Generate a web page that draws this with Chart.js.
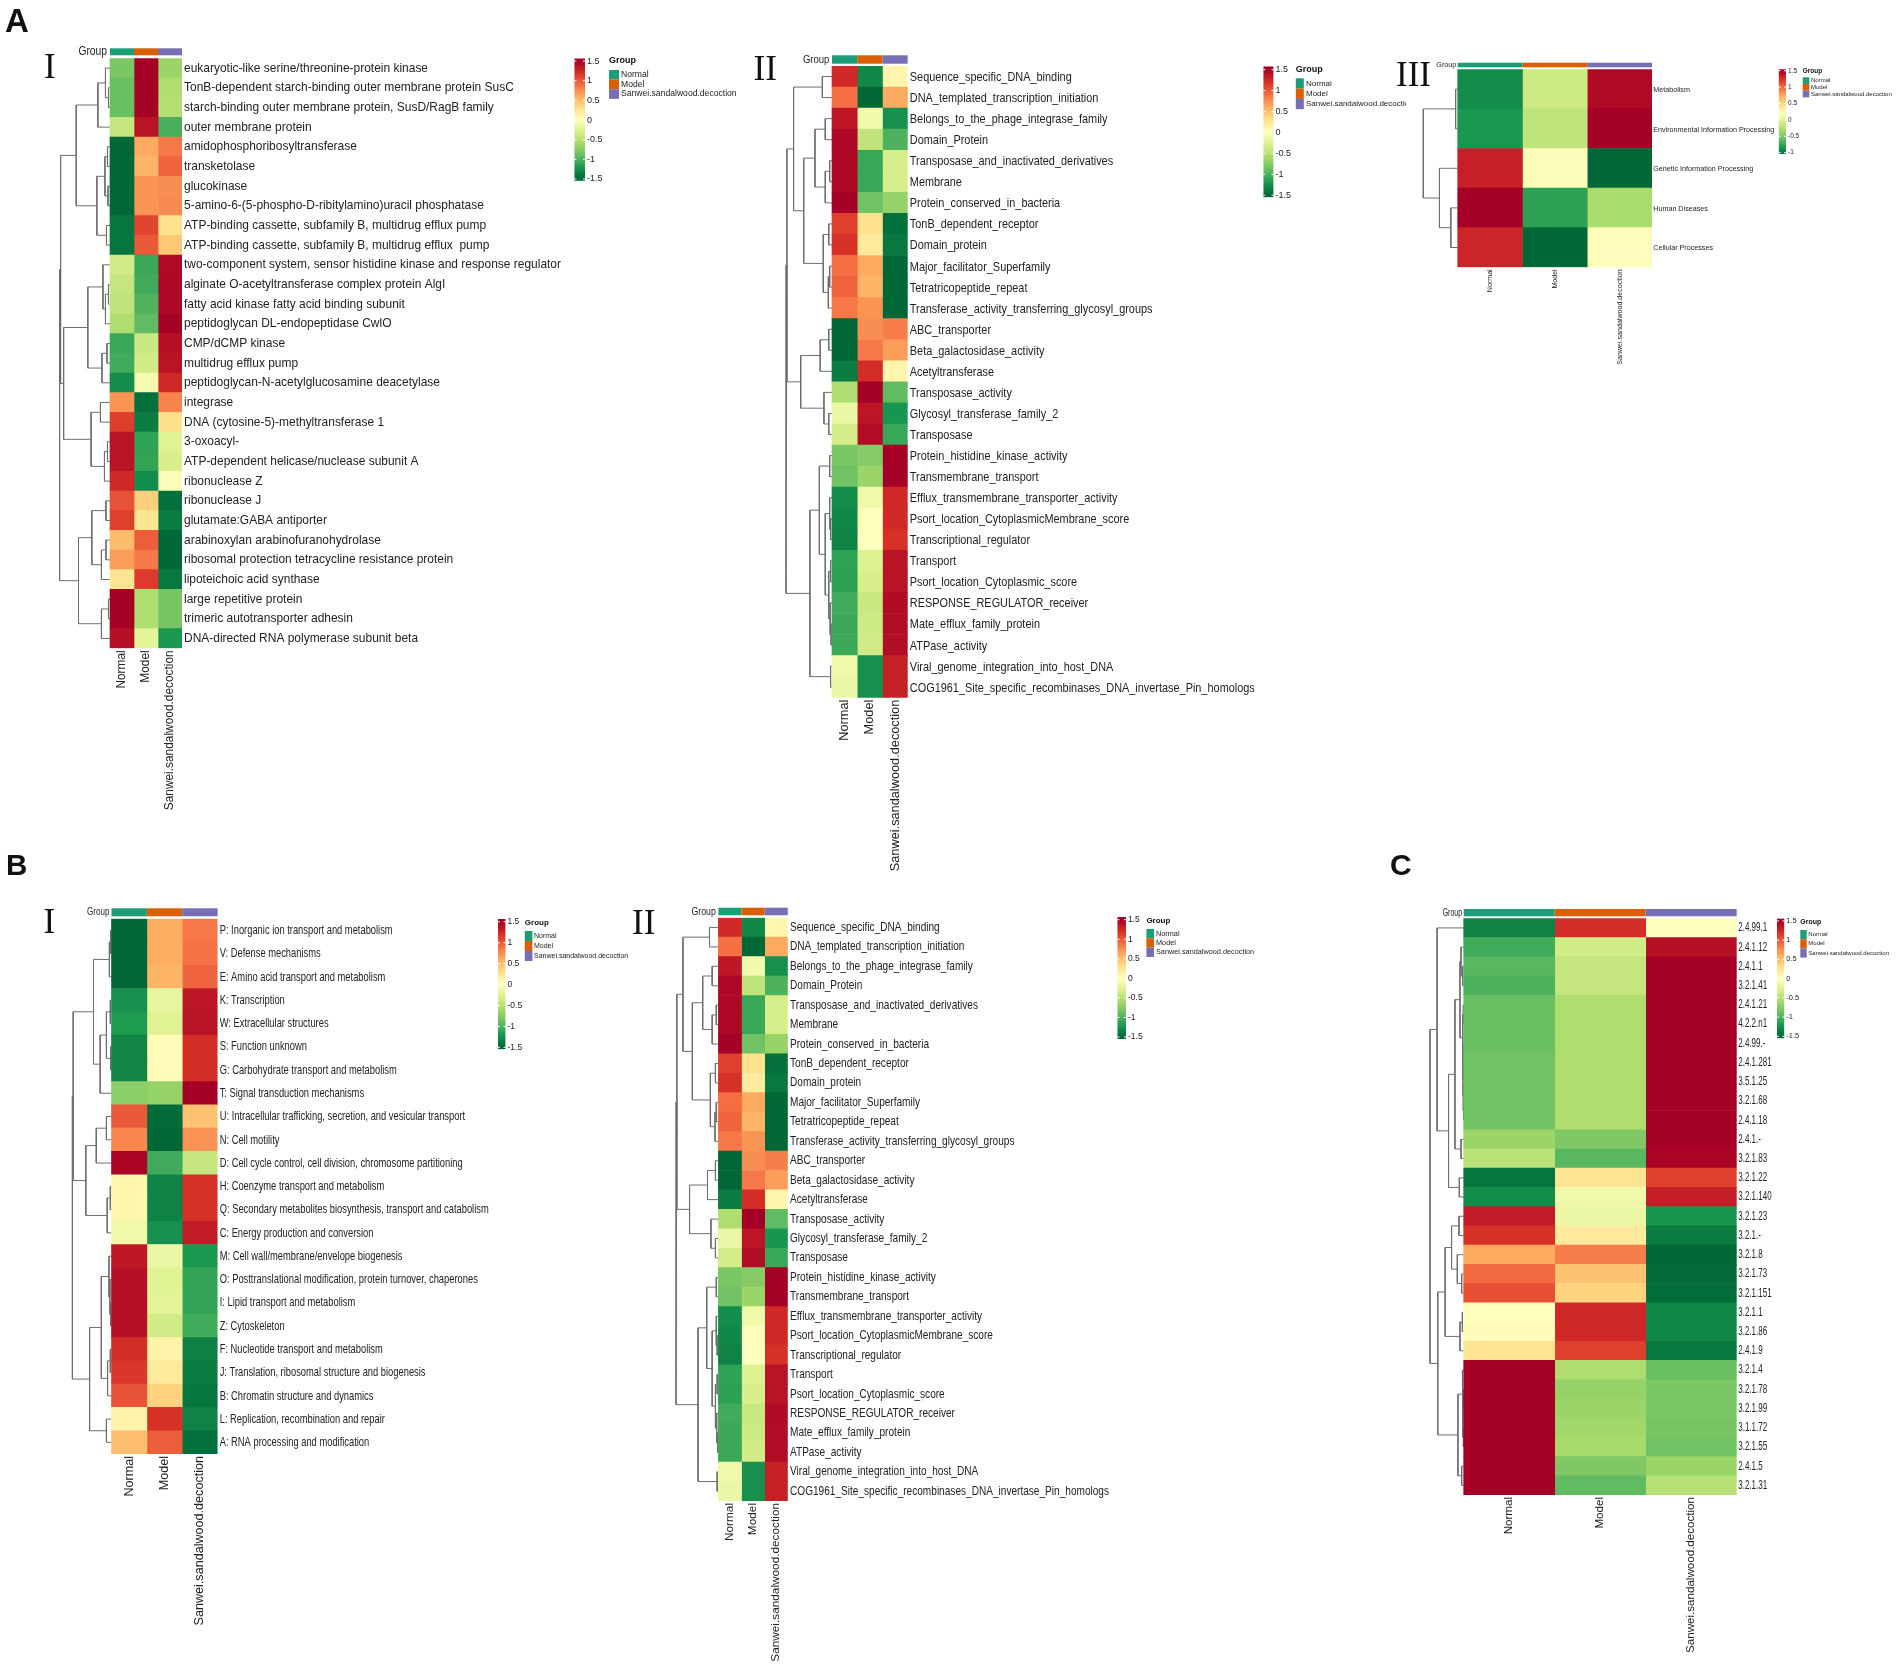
<!DOCTYPE html>
<html>
<head>
<meta charset="utf-8">
<title>Heatmaps</title>
<script src="https://cdn.jsdelivr.net/npm/chart.js"></script>
<style>
    html, body { margin: 0; background: #fff; }
    #page { position: relative; width: 1901px; height: 1670px; overflow: hidden; filter: blur(0.3px); }
    canvas { position: absolute; }
    .letter { position: absolute; font: bold 30px/1 "Liberation Sans"; color: #111; }
    .roman { position: absolute; font: 35px/1 "Liberation Serif"; color: #111; }
</style>
</head>
<body>
<div id="page"></div>
<script>
const groups = ['Normal', 'Model', 'Sanwei.sandalwood.decoction'];
const groupColors = ['#1B9E77', '#D95F02', '#7570B3'];
const heatStops = ['#006837', '#1A9850', '#66BD63', '#A6D96A', '#D9EF8B', '#FFFFBF', '#FEE08B', '#FDAE61', '#F46D43', '#D73027', '#A50026'];
const legendTicks = [1.5, 1, 0.5, 0, -0.5, -1, -1.5];
const legendTicksShort = [1.5, 1, 0.5, 0, -0.5, -1];

// A I
const labelsA1 = ['eukaryotic-like serine/threonine-protein kinase', 'TonB-dependent starch-binding outer membrane protein SusC', 'starch-binding outer membrane protein, SusD/RagB family', 'outer membrane protein', 'amidophosphoribosyltransferase', 'transketolase', 'glucokinase', '5-amino-6-(5-phospho-D-ribitylamino)uracil phosphatase', 'ATP-binding cassette, subfamily B, multidrug efflux pump', 'ATP-binding cassette, subfamily B, multidrug efflux  pump', 'two-component system, sensor histidine kinase and response regulator', 'alginate O-acetyltransferase complex protein AlgI', 'fatty acid kinase fatty acid binding subunit', 'peptidoglycan DL-endopeptidase CwlO', 'CMP/dCMP kinase', 'multidrug efflux pump', 'peptidoglycan-N-acetylglucosamine deacetylase', 'integrase', 'DNA (cytosine-5)-methyltransferase 1', '3-oxoacyl-', 'ATP-dependent helicase/nuclease subunit A', 'ribonuclease Z', 'ribonuclease J', 'glutamate:GABA antiporter', 'arabinoxylan arabinofuranohydrolase', 'ribosomal protection tetracycline resistance protein', 'lipoteichoic acid synthase', 'large repetitive protein', 'trimeric autotransporter adhesin', 'DNA-directed RNA polymerase subunit beta'];
const valuesA1 = [
    [-0.8, 1.5, -0.65], [-0.88, 1.5, -0.55], [-0.88, 1.5, -0.52], [-0.42, 1.38, -1.02], [-1.5, 0.62, 0.85],
    [-1.5, 0.55, 0.95], [-1.5, 0.72, 0.75], [-1.5, 0.72, 0.76], [-1.42, 1.1, 0.28], [-1.42, 1.0, 0.45],
    [-0.35, -1.08, 1.44], [-0.42, -1.05, 1.45], [-0.45, -0.98, 1.45], [-0.55, -0.92, 1.5], [-1.08, -0.38, 1.4],
    [-1.05, -0.35, 1.38], [-1.27, -0.08, 1.25], [0.72, -1.45, 0.8], [1.13, -1.37, 0.3], [1.38, -1.12, -0.25],
    [1.38, -1.1, -0.3], [1.25, -1.27, -0.03], [1.03, 0.4, -1.45], [1.12, 0.25, -1.38], [0.52, 0.98, -1.5],
    [0.68, 0.85, -1.5], [0.25, 1.15, -1.4], [1.5, -0.55, -0.82], [1.5, -0.55, -0.82], [1.4, -0.2, -1.2]
];
// trees are [distance, childA, childB], a plain number is a row
const treeA1 = [100,
    [98,
        [67, [24, [9, 0, [3, 1, 2]], 3], [26, [10, [5, 4, 5], [4, 6, 7]], [7, 8, 9]]],
        [92,
            [44, [14, 10, [9, [3, 11, 12], 13]], [16, [6, 14, 15], 16]],
            [37.5, [19, 17, 18], [11, [5, 19, 20], 21]]]],
    [62.5,
        [36, [8, 22, 23], [17, [8, 24, 25], 26]],
        [17, [3, 27, 28], 29]]];

// A II and B II show the same table
const labelsII = ['Sequence_specific_DNA_binding', 'DNA_templated_transcription_initiation', 'Belongs_to_the_phage_integrase_family', 'Domain_Protein', 'Transposase_and_inactivated_derivatives', 'Membrane', 'Protein_conserved_in_bacteria', 'TonB_dependent_receptor', 'Domain_protein', 'Major_facilitator_Superfamily', 'Tetratricopeptide_repeat', 'Transferase_activity_transferring_glycosyl_groups', 'ABC_transporter', 'Beta_galactosidase_activity', 'Acetyltransferase', 'Transposase_activity', 'Glycosyl_transferase_family_2', 'Transposase', 'Protein_histidine_kinase_activity', 'Transmembrane_transport', 'Efflux_transmembrane_transporter_activity', 'Psort_location_CytoplasmicMembrane_score', 'Transcriptional_regulator', 'Transport', 'Psort_location_Cytoplasmic_score', 'RESPONSE_REGULATOR_receiver', 'Mate_efflux_family_protein', 'ATPase_activity', 'Viral_genome_integration_into_host_DNA', 'COG1961_Site_specific_recombinases_DNA_invertase_Pin_homologs'];
const valuesII = [
    [1.25, -1.3, 0.1], [0.88, -1.5, 0.62], [1.35, -0.1, -1.25], [1.45, -0.45, -1.0], [1.45, -1.08, -0.32],
    [1.45, -1.08, -0.32], [1.5, -0.85, -0.68], [1.12, 0.28, -1.45], [1.2, 0.2, -1.4], [0.9, 0.62, -1.5],
    [0.95, 0.55, -1.5], [0.85, 0.72, -1.5], [-1.5, 0.75, 0.82], [-1.5, 0.85, 0.68], [-1.37, 1.22, 0.1],
    [-0.55, 1.5, -0.92], [-0.15, 1.37, -1.22], [-0.33, 1.42, -1.08], [-0.8, -0.75, 1.5], [-0.85, -0.65, 1.5],
    [-1.27, -0.12, 1.25], [-1.3, -0.02, 1.25], [-1.33, 0, 1.2], [-1.12, -0.27, 1.38], [-1.13, -0.3, 1.38],
    [-1.05, -0.4, 1.43], [-1.07, -0.37, 1.42], [-1.07, -0.35, 1.42], [-0.12, -1.25, 1.3], [-0.15, -1.25, 1.3]
];
const treeII = [100,
    [98,
        [83.5,
            [21, 0, 1],
            [61.5,
                [37, [14.7, 2, 3], [14.7, [5, 4, 5], 6]],
                [19, [7, 7, 8], [8, [5, 9, 10], 11]]]],
        [68,
            [25.7, [7, 12, 13], 14],
            [17.5, 15, [7, 16, 17]]]],
    [48,
        [27.5,
            [5, 18, 19],
            [14.7, [5, 20, [3, 21, 22]], [7, [3, 23, 24], [4, 25, [2, 26, 27]]]]],
        [3, 28, 29]]];

// A III
const labelsA3 = ['Metabolism', 'Environmental Information Processing', 'Genetic Information Processing', 'Human Diseases', 'Cellular Processes'];
const valuesA3 = [[-0.9, -0.12, 1.45], [-0.84, -0.2, 1.5], [1.33, 0.17, -1.1], [1.5, -0.78, -0.3], [1.3, -1.1, 0.22]];
const treeA3 = [100, [6, 0, 1], [53, 2, [20, 3, 4]]];

// B I
const labelsB1 = ['P: Inorganic ion transport and metabolism', 'V: Defense mechanisms', 'E: Amino acid transport and metabolism', 'K: Transcription', 'W: Extracellular structures', 'S: Function unknown', 'G: Carbohydrate transport and metabolism', 'T: Signal transduction mechanisms', 'U: Intracellular trafficking, secretion, and vesicular transport', 'N: Cell motility', 'D: Cell cycle control, cell division, chromosome partitioning', 'H: Coenzyme transport and metabolism', 'Q: Secondary metabolites biosynthesis, transport and catabolism', 'C: Energy production and conversion', 'M: Cell wall/membrane/envelope biogenesis', 'O: Posttranslational modification, protein turnover, chaperones', 'I: Lipid transport and metabolism', 'Z: Cytoskeleton', 'F: Nucleotide transport and metabolism', 'J: Translation, ribosomal structure and biogenesis', 'B: Chromatin structure and dynamics', 'L: Replication, recombination and repair', 'A: RNA processing and modification'];
const valuesB1 = [
    [-1.5, 0.6, 0.85], [-1.5, 0.6, 0.87], [-1.5, 0.55, 0.95], [-1.25, -0.18, 1.37], [-1.18, -0.25, 1.38],
    [-1.32, 0.03, 1.22], [-1.32, 0.03, 1.22], [-0.72, -0.68, 1.5], [1.0, -1.48, 0.48], [0.78, -1.5, 0.72],
    [1.47, -1.05, -0.42], [0.1, -1.33, 1.2], [0.1, -1.33, 1.2], [-0.12, -1.25, 1.33], [1.35, -0.15, -1.2],
    [1.4, -0.25, -1.1], [1.4, -0.22, -1.1], [1.4, -0.35, -1.05], [1.22, 0.12, -1.35], [1.17, 0.2, -1.37],
    [1.03, 0.38, -1.42], [0.12, 1.2, -1.33], [0.5, 0.98, -1.45]
];
const treeB1 = [100,
    [98,
        [46,
            [5.4, [2, 0, 1], 2],
            [29, [13, [3, 3, 4], [2, 5, 6]], 7]],
        [65.6,
            [39, [13, 8, 9], 10],
            [11, [3, 11, 12], 13]]],
    [56,
        [26,
            [6.5, 14, [4, 15, [2, 16, 17]]],
            [10, [3, 18, 19], 20]],
        [13, 21, 22]]];

// C
const labelsC = ['2.4.99.1', '2.4.1.12', '2.4.1.1', '3.2.1.41', '2.4.1.21', '4.2.2.n1', '2.4.99.-', '2.4.1.281', '3.5.1.25', '3.2.1.68', '2.4.1.18', '2.4.1.-', '3.2.1.83', '3.2.1.22', '3.2.1.140', '3.2.1.23', '3.2.1.-', '3.2.1.8', '3.2.1.73', '3.2.1.151', '3.2.1.1', '3.2.1.86', '2.4.1.9', '3.2.1.4', '3.2.1.78', '3.2.1.99', '3.1.1.72', '3.2.1.55', '2.4.1.5', '3.2.1.31'];
const valuesC = [
    [-1.33, 1.22, 0], [-1.05, -0.35, 1.4], [-0.95, -0.42, 1.5], [-1.0, -0.42, 1.5], [-0.88, -0.55, 1.5],
    [-0.88, -0.55, 1.5], [-0.88, -0.55, 1.5], [-0.85, -0.55, 1.5], [-0.85, -0.55, 1.5], [-0.85, -0.55, 1.5],
    [-0.85, -0.55, 1.5], [-0.65, -0.78, 1.5], [-0.48, -0.95, 1.47], [-1.42, 0.25, 1.12], [-1.28, -0.12, 1.32],
    [1.33, -0.15, -1.22], [1.2, 0.2, -1.38], [0.62, 0.82, -1.5], [0.92, 0.48, -1.48], [1.05, 0.38, -1.47],
    [0, 1.25, -1.3], [0.03, 1.25, -1.3], [0.27, 1.12, -1.4], [1.5, -0.55, -0.88], [1.5, -0.68, -0.8],
    [1.5, -0.65, -0.8], [1.5, -0.62, -0.82], [1.5, -0.58, -0.85], [1.5, -0.78, -0.65], [1.5, -0.92, -0.5]
];
const treeC = [100,
    [79, 0,
        [45,
            [26,
                [11,
                    [8, 1, [3, 2, 3]],
                    [3, [2, 4, 5], [2.5, 6, [2, 7, [1.5, 8, [1, 9, 10]]]]]],
                [8, 11, 12]],
            [13, 13, 14]]],
    [77,
        [55,
            [36, [14, 15, 16], [19, 17, [6, 18, 19]]],
            [11, [4, 20, 21], 22]],
        [17, [4, 23, [2.5, [1.5, 24, 25], [1.5, 26, 27]]], [6, 28, 29]]]];

// layout of each panel in page pixels
const panels = [
    {
        labels: labelsA1, values: valuesA1, tree: treeA1, range: [-1.5, 1.5],
        heat: [110, 58.3, 182, 648.3], strip: [48.3, 55.3], dendroLeft: 59.6,
        labelX: 184, labelDy: 0, labelFont: 12.8, labelWidth: 377, colFont: 11.9,
        groupRight: 107, groupFont: 12, groupWidth: 28.6,
        legend: {
            bar: [574.4, 57.3, 585, 180.7], domain: [-1.543, 1.568], ticks: legendTicks, tickFont: 9,
            keyX: 609, titleY: 61, swatchY: 70, pitch: 9.6, swatchW: 10, textX: 621, textFont: 8.6, titleFont: 9, right: 745
        }
    },
    {
        labels: labelsII, values: valuesII, tree: treeII, range: [-1.5, 1.5],
        heat: [832, 66, 907.7, 697.7], strip: [55.3, 63.7], dendroLeft: 786,
        labelX: 909.8, labelDy: 1, labelFont: 12.6, labelWidth: 345, colFont: 12.76,
        groupRight: 829.4, groupFont: 11.5, groupWidth: 26.5,
        legend: {
            bar: [1263.4, 65, 1273.5, 197.3], domain: [-1.55, 1.578], ticks: legendTicks, tickFont: 9,
            keyX: 1295.8, titleY: 69.3, swatchY: 78.3, pitch: 10.3, swatchW: 8, textX: 1306, textFont: 8, titleFont: 9, right: 1406
        }
    },
    {
        labels: labelsA3, values: valuesA3, tree: treeA3, range: [-1.1, 1.5],
        heat: [1457.7, 69.3, 1652, 267.3], strip: [62.7, 67.3], dendroLeft: 1423.3,
        labelX: 1653.3, labelDy: 1, labelFont: 7.2, labelWidth: 121, colFont: 7.1,
        groupRight: 1456.3, groupFont: 7.2, groupWidth: 20,
        legend: {
            bar: [1778.7, 69.3, 1786, 154], domain: [-1.04, 1.543], ticks: legendTicksShort, tickFont: 6.5,
            keyX: 1802.7, titleY: 71.7, swatchY: 77.3, pitch: 6.67, swatchW: 6.6, textX: 1811, textFont: 6, titleFont: 6.5, right: 1895
        }
    },
    {
        labels: labelsB1, values: valuesB1, tree: treeB1, range: [-1.5, 1.5],
        heat: [111.5, 918.7, 217.6, 1454], strip: [908.3, 916.3], dendroLeft: 72.4,
        labelX: 219.7, labelDy: 0, labelFont: 13.5, labelWidth: 269, colFont: 12.6,
        groupRight: 109.4, groupFont: 11.5, groupWidth: 22.3,
        legend: {
            bar: [498, 918.3, 505.5, 1049.3], domain: [-1.548, 1.564], ticks: legendTicks, tickFont: 8.5,
            keyX: 524.8, titleY: 922.3, swatchY: 931, pitch: 10, swatchW: 7.6, textX: 534, textFont: 7, titleFont: 8, right: 630
        }
    },
    {
        labels: labelsII, values: valuesII, tree: treeII, range: [-1.5, 1.5],
        heat: [718.4, 917.7, 787.8, 1501], strip: [907.7, 915.3], dendroLeft: 676,
        labelX: 790, labelDy: 0, labelFont: 12.6, labelWidth: 319, colFont: 11.8,
        groupRight: 715.8, groupFont: 11, groupWidth: 24.3,
        legend: {
            bar: [1117.4, 916.7, 1126, 1039], domain: [-1.55, 1.566], ticks: legendTicks, tickFont: 8.5,
            keyX: 1146.4, titleY: 920.7, swatchY: 929, pitch: 9.33, swatchW: 7.6, textX: 1156, textFont: 7.3, titleFont: 8, right: 1262
        }
    },
    {
        labels: labelsC, values: valuesC, tree: treeC, range: [-1.5, 1.5],
        heat: [1463.7, 918.3, 1736.7, 1495], strip: [909, 916.3], dendroLeft: 1430,
        labelX: 1738.3, labelDy: 0, labelFont: 12.2, labelWidth: 33.3, colFont: 11.6,
        groupRight: 1462, groupFont: 10.5, groupWidth: 19.3,
        legend: {
            bar: [1777, 918.3, 1784.3, 1038.3], domain: [-1.552, 1.562], ticks: legendTicks, tickFont: 7.5,
            keyX: 1800.3, titleY: 921.7, swatchY: 930, pitch: 9.2, swatchW: 6.4, textX: 1808.3, textFont: 6, titleFont: 7, right: 1892
        }
    }
];

const marks = [
    ['letter', 'A', 5, 4, 33], ['letter', 'B', 6, 849.5, 29.5], ['letter', 'C', 1390, 850, 30],
    ['roman', 'I', 44, 48.9], ['roman', 'II', 753.5, 51.2], ['roman', 'III', 1396, 57.2],
    ['roman', 'I', 43.5, 903.9], ['roman', 'II', 632, 904.6]
];

const page = document.getElementById('page');
const sansFont = '"Liberation Sans"';

function hexToRgb(hex) {
    return [1, 3, 5].map(i => parseInt(hex.slice(i, i + 2), 16));
}

function heatColor(value, range) {
    const t = Math.min(1, Math.max(0, (value - range[0]) / (range[1] - range[0]))) * (heatStops.length - 1);
    const i = Math.min(heatStops.length - 2, Math.floor(t));
    const a = hexToRgb(heatStops[i]);
    const b = hexToRgb(heatStops[i + 1]);
    const mix = a.map((c, k) => Math.round(c + (b[k] - c) * (t - i)));
    return `rgb(${mix.join(',')})`;
}

function addCanvas(left, top, right, bottom) {
    const canvas = document.createElement('canvas');
    canvas.width = Math.ceil(right - left);
    canvas.height = Math.ceil(bottom - top);
    canvas.style.left = left + 'px';
    canvas.style.top = top + 'px';
    page.appendChild(canvas);
    return canvas;
}

// the dendrogram as one broken line, row positions follow the y scale
function treePoints(tree, span) {
    const points = [];
    const toX = h => -h / tree[0] * span;
    function walk(node) {
        if (typeof node === 'number') {
            return { y: node + 0.5, h: 0 };
        }
        const a = walk(node[1]);
        const b = walk(node[2]);
        points.push({ x: toX(a.h), y: a.y }, { x: toX(node[0]), y: a.y }, { x: toX(node[0]), y: b.y },
            { x: toX(b.h), y: b.y }, { x: null, y: null });
        return { y: (a.y + b.y) / 2, h: node[0] };
    }
    walk(tree);
    return points;
}

// pheatmap text in this figure is squeezed sideways, so fit it to the measured width
function squeezedText(ctx, text, x, y, scaleX, align) {
    ctx.save();
    ctx.translate(x, y);
    ctx.scale(scaleX, 1);
    ctx.textAlign = align;
    ctx.textBaseline = 'middle';
    ctx.fillText(text, 0, 0);
    ctx.restore();
}

function drawPanel(p) {
    const left = Math.floor(p.dendroLeft - 3);
    const top = Math.floor(p.strip[0] - 4);
    const right = Math.ceil(p.labelX + p.labelWidth + 5);
    const bottom = Math.ceil(p.heat[3] + 178);
    const canvas = addCanvas(left, top, right, bottom);
    const colWidth = (p.heat[2] - p.heat[0]) / 3;
    const span = (p.heat[0] - p.dendroLeft) / colWidth;

    const cellSets = groups.map((name, c) => ({
        label: name,
        indexAxis: 'y',
        grouped: false,
        barPercentage: 1,
        categoryPercentage: 1,
        data: p.values.map((row, r) => ({ x: [c, c + 1], y: r + 0.5 })),
        backgroundColor: p.values.map(row => heatColor(row[c], p.range))
    }));

    const extras = {
        id: 'panelExtras',
        afterDraw(chart) {
            const { ctx, scales } = chart;
            // group strip above the columns
            groups.forEach((name, c) => {
                const x0 = scales.x.getPixelForValue(c);
                const x1 = scales.x.getPixelForValue(c + 1);
                ctx.fillStyle = groupColors[c];
                ctx.fillRect(x0, p.strip[0] - top, x1 - x0, p.strip[1] - p.strip[0]);
            });
            ctx.fillStyle = '#222';
            ctx.font = `${p.groupFont}px ${sansFont}`;
            squeezedText(ctx, 'Group', p.groupRight - left, (p.strip[0] + p.strip[1]) / 2 - top,
                p.groupWidth / ctx.measureText('Group').width, 'right');
            // row names
            ctx.font = `${p.labelFont}px ${sansFont}`;
            const widest = Math.max(...p.labels.map(t => ctx.measureText(t).width));
            p.labels.forEach((text, r) => {
                squeezedText(ctx, text, p.labelX - left, scales.y.getPixelForValue(r + 0.5) + p.labelDy, p.labelWidth / widest, 'left');
            });
        }
    };

    new Chart(canvas, {
        type: 'bar',
        data: {
            datasets: [...cellSets, {
                type: 'scatter',
                label: 'dendrogram',
                showLine: true,
                data: treePoints(p.tree, span),
                borderColor: '#6e6e6e',
                borderWidth: 1,
                pointRadius: 0,
                tension: 0
            }]
        },
        options: {
            responsive: false,
            animation: false,
            events: [],
            layout: {
                padding: {
                    top: p.heat[1] - top,
                    right: canvas.width - (p.heat[2] - left),
                    left: 0,
                    bottom: 0
                }
            },
            plugins: { legend: { display: false }, tooltip: { enabled: false } },
            scales: {
                x: {
                    type: 'linear',
                    offset: false,
                    min: -(p.heat[0] - left) / colWidth,
                    max: 3,
                    grid: { display: false, drawTicks: false, offset: false },
                    border: { display: false },
                    afterBuildTicks: scale => { scale.ticks = [{ value: 0.5 }, { value: 1.5 }, { value: 2.5 }]; },
                    afterFit: scale => { scale.height = canvas.height - (p.heat[3] - top); },
                    ticks: {
                        autoSkip: false,
                        minRotation: 90,
                        maxRotation: 90,
                        padding: 2,
                        color: '#222',
                        font: { family: 'Liberation Sans', size: p.colFont },
                        callback: (value, i) => groups[i]
                    }
                },
                y: {
                    type: 'linear',
                    offset: false,
                    min: 0,
                    max: p.labels.length,
                    reverse: true,
                    display: false,
                    // one tick per row, the bar thickness is worked out from these
                    afterBuildTicks: scale => { scale.ticks = p.labels.map((t, r) => ({ value: r + 0.5 })); }
                }
            }
        },
        plugins: [extras]
    });
}

function drawLegend(lg, range) {
    const [barLeft, barTop, barRight, barBottom] = lg.bar;
    const left = Math.floor(barLeft);
    const top = Math.floor(barTop - 6);
    const canvas = addCanvas(left, top, lg.right, barBottom + 8);
    const axisWidth = 24;

    const key = {
        id: 'groupKey',
        afterDraw(chart) {
            const { ctx, scales } = chart;
            // small white notches on the bar
            ctx.fillStyle = '#fff';
            lg.ticks.forEach(v => {
                const y = scales.y.getPixelForValue(v);
                ctx.fillRect(barLeft - left, y - 0.5, 2, 1);
                ctx.fillRect(barRight - left - 2, y - 0.5, 2, 1);
            });
            ctx.fillStyle = '#111';
            ctx.textAlign = 'left';
            ctx.textBaseline = 'middle';
            ctx.font = `bold ${lg.titleFont}px ${sansFont}`;
            ctx.fillText('Group', lg.keyX - left, lg.titleY - top);
            ctx.font = `${lg.textFont}px ${sansFont}`;
            groups.forEach((name, i) => {
                const y = lg.swatchY - top + i * lg.pitch;
                ctx.fillStyle = groupColors[i];
                ctx.fillRect(lg.keyX - left, y, lg.swatchW, lg.pitch);
                ctx.fillStyle = '#222';
                ctx.fillText(name, lg.textX - left, y + lg.pitch / 2);
            });
        }
    };

    new Chart(canvas, {
        type: 'bar',
        data: {
            labels: ['value'],
            datasets: [{
                data: [lg.domain],
                barPercentage: 1,
                categoryPercentage: 1,
                backgroundColor(context) {
                    const { chart } = context;
                    if (!chart.chartArea) {
                        return heatStops[5];
                    }
                    const g = chart.ctx.createLinearGradient(0, chart.scales.y.getPixelForValue(range[0]), 0, chart.scales.y.getPixelForValue(range[1]));
                    heatStops.forEach((c, i) => g.addColorStop(i / (heatStops.length - 1), c));
                    return g;
                }
            }]
        },
        options: {
            responsive: false,
            animation: false,
            events: [],
            layout: {
                padding: {
                    left: barLeft - left,
                    top: barTop - top,
                    right: canvas.width - (barRight - left) - axisWidth,
                    bottom: canvas.height - (barBottom - top)
                }
            },
            plugins: { legend: { display: false }, tooltip: { enabled: false } },
            scales: {
                x: { display: false },
                y: {
                    position: 'right',
                    min: lg.domain[0],
                    max: lg.domain[1],
                    grid: { display: false, drawTicks: false },
                    border: { display: false },
                    afterBuildTicks: scale => { scale.ticks = lg.ticks.map(value => ({ value })); },
                    afterFit: scale => { scale.width = axisWidth; },
                    ticks: {
                        padding: 2,
                        color: '#222',
                        font: { family: 'Liberation Sans', size: lg.tickFont },
                        callback: value => String(value)
                    }
                }
            }
        },
        plugins: [key]
    });
}

panels.forEach(p => {
    drawPanel(p);
    drawLegend(p.legend, p.range);
});

marks.forEach(([kind, text, x, y, size]) => {
    const el = document.createElement('div');
    el.className = kind;
    el.textContent = text;
    el.style.left = x + 'px';
    el.style.top = y + 'px';
    if (size) {
        el.style.fontSize = size + 'px';
    }
    page.appendChild(el);
});
</script>
</body>
</html>
